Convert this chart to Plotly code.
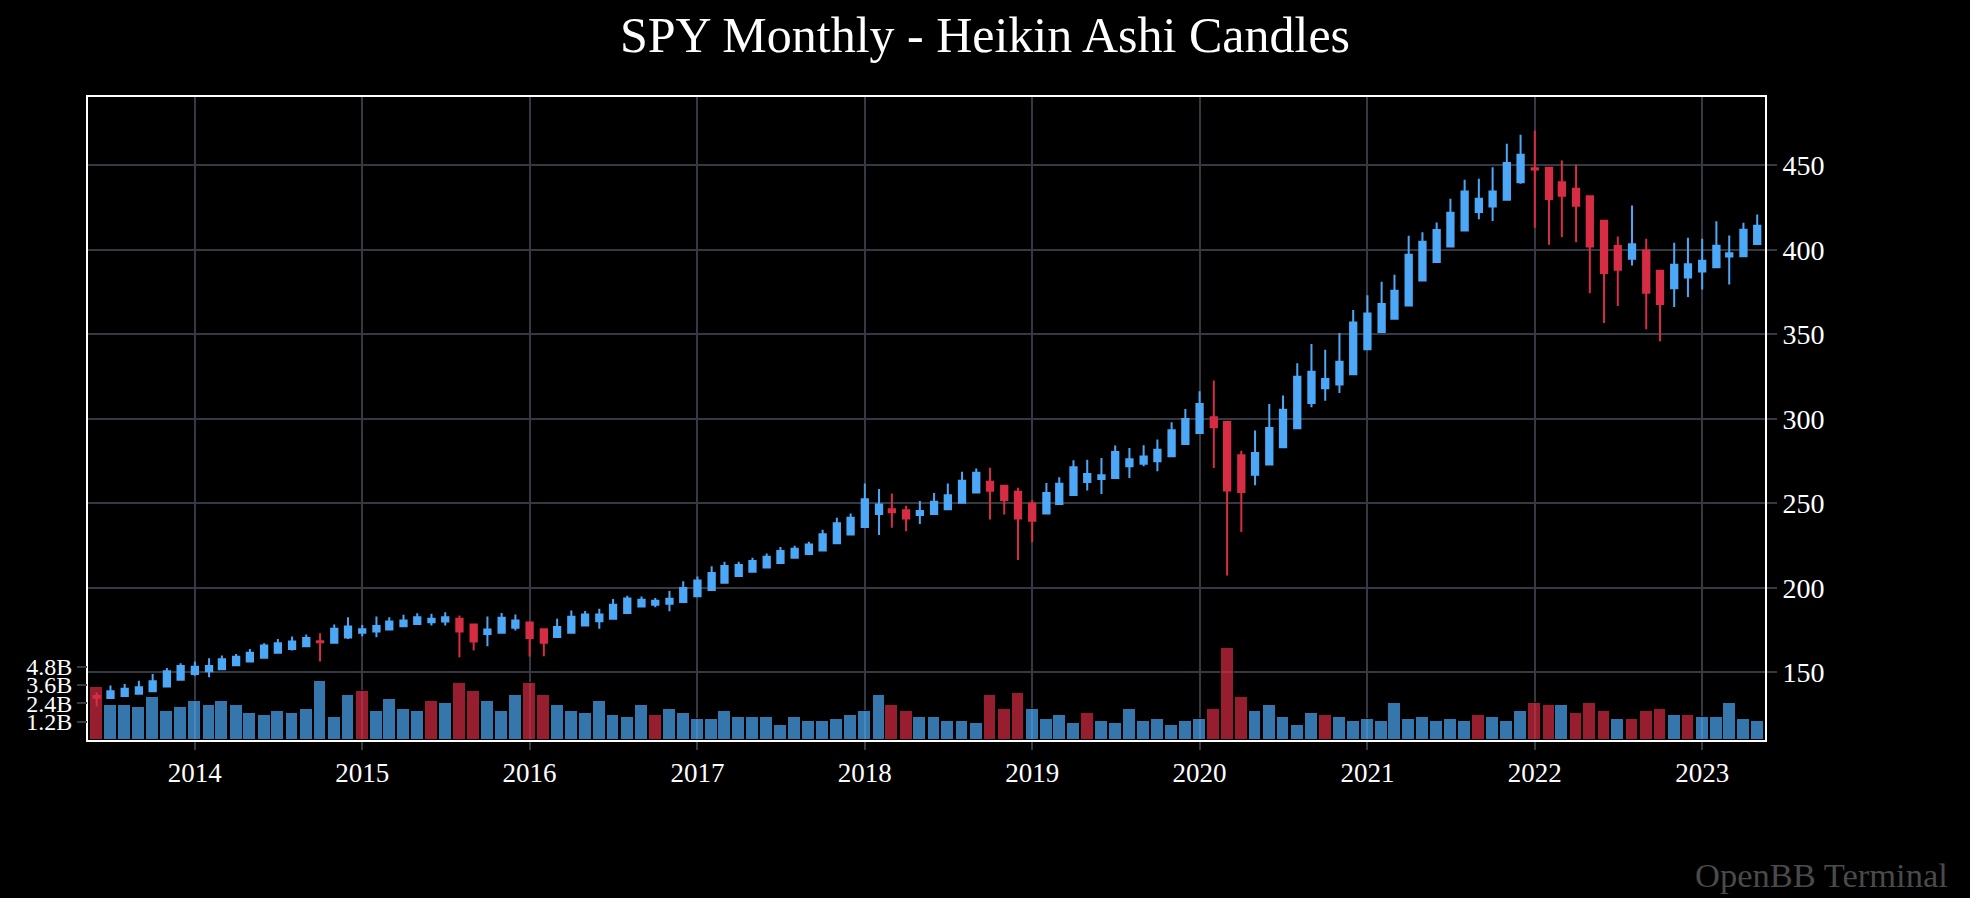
import plotly.graph_objects as go
import pandas as pd

# Monthly Heikin Ashi candles, SPY, 2013-06 .. 2023-05
months = pd.date_range("2013-06-01", periods=120, freq="MS")

ha_open = [136.0, 134.8, 136.0, 137.3, 138.8, 141.6, 145.7, 149.1, 150.7, 151.9,
           154.2, 156.4, 158.6, 161.7, 163.9, 165.5, 168.5, 167.5, 170.6, 173.4,
           174.2, 175.4, 177.3, 178.7, 179.7, 180.1, 181.7, 178.3, 172.8, 173.4,
           176.4, 179.5, 175.6, 171.0, 173.4, 177.7, 180.3, 181.7, 185.2, 189.0,
           190.0, 190.6, 191.6, 195.1, 198.7, 203.0, 207.0, 209.6, 212.1, 214.7,
           217.8, 220.0, 222.2, 226.5, 231.6, 236.0, 243.7, 246.6, 246.0, 243.1,
           243.7, 246.6, 250.4, 256.5, 262.8, 260.4, 256.9, 249.9, 244.1, 249.7,
           255.0, 262.7, 264.5, 265.1, 272.0, 273.4, 274.9, 277.9, 285.2, 291.7,
           301.0, 298.2, 278.5, 267.0, 273.0, 283.2, 294.5, 309.4, 318.1, 320.4,
           326.5, 341.3, 351.4, 359.3, 367.1, 381.9, 392.9, 402.0, 411.5, 422.4,
           425.7, 429.7, 440.0, 448.4, 448.6, 440.0, 436.2, 431.7, 417.3, 402.3,
           394.8, 399.7, 387.7, 377.4, 383.7, 387.3, 389.8, 396.1, 396.3, 403.5]
ha_high = [138.2, 142.2, 143.2, 145.1, 149.1, 152.6, 155.4, 156.4, 158.4, 160.0,
           160.9, 163.9, 167.3, 169.8, 171.2, 172.4, 173.2, 178.3, 182.7, 178.1,
           183.1, 182.7, 184.1, 185.0, 184.7, 185.6, 183.7, 178.3, 183.1, 185.2,
           184.3, 179.5, 176.0, 181.7, 186.6, 186.4, 187.6, 193.4, 195.3, 194.9,
           194.1, 198.1, 204.0, 206.8, 212.8, 215.5, 215.5, 217.8, 220.4, 224.2,
           224.9, 227.3, 234.4, 241.5, 244.1, 261.8, 258.5, 255.9, 248.6, 251.4,
           256.1, 261.8, 268.7, 270.7, 271.1, 260.4, 259.3, 251.8, 262.1, 265.5,
           275.5, 275.9, 276.9, 284.2, 282.8, 284.4, 287.8, 298.0, 305.9, 316.4,
           322.8, 298.2, 281.2, 293.1, 308.9, 313.8, 333.0, 344.3, 340.9, 350.9,
           364.5, 373.2, 381.1, 385.3, 408.4, 410.4, 416.3, 430.3, 441.5, 442.1,
           449.0, 462.8, 468.1, 470.7, 448.6, 452.9, 450.4, 431.7, 417.3, 408.0,
           426.3, 406.6, 387.7, 404.2, 407.2, 406.6, 417.0, 408.6, 416.1, 421.0]
ha_low = [129.9, 134.8, 136.0, 137.3, 138.8, 141.6, 145.7, 148.0, 147.1, 151.9,
          154.2, 156.4, 158.6, 161.7, 162.9, 165.5, 156.4, 167.5, 169.8, 171.4,
          170.8, 175.4, 177.3, 178.7, 177.7, 177.7, 159.0, 163.0, 165.5, 173.4,
          174.8, 159.4, 159.6, 171.0, 173.4, 177.7, 175.8, 181.7, 185.2, 189.0,
          188.6, 186.2, 191.6, 195.1, 198.7, 203.0, 207.0, 209.6, 212.1, 214.7,
          217.8, 220.0, 222.2, 226.5, 231.6, 236.0, 231.3, 235.6, 233.6, 237.8,
          243.7, 246.6, 250.4, 256.5, 240.5, 243.5, 216.5, 227.2, 244.1, 249.7,
          255.0, 257.6, 255.6, 265.1, 265.1, 272.0, 269.0, 277.9, 285.2, 291.7,
          271.0, 207.4, 233.1, 260.7, 273.0, 283.2, 294.5, 306.9, 310.8, 315.3,
          326.5, 341.3, 351.4, 359.3, 367.1, 381.9, 392.9, 402.0, 411.5, 418.1,
          417.1, 429.7, 439.1, 413.1, 403.1, 407.6, 404.6, 374.4, 356.7, 366.8,
          390.8, 353.1, 345.9, 366.2, 372.1, 376.6, 389.8, 379.6, 396.3, 403.5]
ha_close = [135.0, 138.8, 140.4, 141.2, 144.7, 150.7, 153.8, 153.4, 153.8, 157.8,
            159.2, 161.7, 165.9, 167.3, 168.3, 170.4, 167.8, 175.8, 177.1, 175.6,
            177.5, 180.1, 180.7, 182.7, 181.7, 182.7, 174.2, 168.3, 175.4, 182.3,
            180.7, 170.4, 167.5, 176.9, 182.9, 184.3, 184.3, 190.0, 193.7, 193.0,
            192.4, 193.6, 199.9, 204.4, 208.8, 212.9, 213.5, 215.9, 218.4, 221.8,
            223.2, 225.7, 231.8, 238.2, 241.5, 252.5, 249.4, 244.7, 241.1, 245.5,
            251.0, 254.9, 263.4, 268.1, 257.5, 252.0, 241.1, 239.8, 256.2, 261.7,
            271.4, 267.4, 266.6, 280.5, 276.1, 277.7, 281.8, 293.3, 300.0, 308.9,
            295.1, 257.6, 256.8, 279.9, 294.7, 305.5, 325.0, 327.9, 323.6, 333.8,
            357.0, 362.4, 368.0, 375.8, 397.2, 404.9, 411.8, 422.0, 434.6, 430.3,
            434.6, 451.4, 456.3, 447.6, 430.1, 432.1, 426.1, 402.1, 386.3, 388.3,
            403.3, 374.6, 368.0, 391.2, 391.6, 393.6, 402.5, 398.1, 411.9, 414.3]

# monthly volume in billions of shares, and bar direction (1 = up, 0 = down)
volume_bn = [3.49, 2.31, 2.31, 2.18, 2.83, 1.92, 2.18, 2.57, 2.31, 2.57,
             2.31, 1.79, 1.66, 1.92, 1.79, 2.05, 3.88, 1.52, 2.96, 3.22,
             1.92, 2.70, 2.05, 1.92, 2.57, 2.44, 3.75, 3.23, 2.57, 1.92,
             2.96, 3.75, 2.96, 2.31, 1.92, 1.79, 2.57, 1.66, 1.52, 2.31,
             1.66, 2.05, 1.79, 1.39, 1.39, 1.92, 1.52, 1.52, 1.52, 1.00,
             1.52, 1.26, 1.26, 1.39, 1.66, 1.92, 2.96, 2.31, 1.92, 1.52,
             1.52, 1.26, 1.26, 1.13, 2.96, 2.05, 3.09, 2.05, 1.39, 1.66,
             1.13, 1.79, 1.26, 1.13, 2.05, 1.26, 1.39, 1.00, 1.26, 1.39,
             2.05, 5.98, 2.83, 1.92, 2.31, 1.52, 1.00, 1.79, 1.66, 1.52,
             1.26, 1.39, 1.26, 2.44, 1.39, 1.52, 1.26, 1.39, 1.26, 1.66,
             1.52, 1.26, 1.92, 2.44, 2.31, 2.31, 1.79, 2.44, 1.92, 1.39,
             1.39, 1.92, 2.05, 1.66, 1.66, 1.52, 1.52, 2.44, 1.39, 1.26]
volume_up = [0, 1, 1, 1, 1, 1, 1, 1, 1, 1,
             1, 1, 1, 1, 1, 1, 1, 1, 1, 0,
             1, 1, 1, 1, 0, 1, 0, 0, 1, 1,
             1, 0, 0, 1, 1, 1, 1, 1, 1, 1,
             0, 1, 1, 1, 1, 1, 1, 1, 1, 1,
             1, 1, 1, 1, 1, 1, 1, 0, 0, 1,
             1, 1, 1, 1, 0, 0, 0, 1, 1, 1,
             1, 0, 1, 1, 1, 1, 1, 1, 1, 1,
             0, 0, 0, 1, 1, 1, 1, 1, 0, 1,
             1, 1, 1, 1, 1, 1, 1, 1, 1, 0,
             1, 1, 1, 0, 0, 1, 0, 0, 0, 1,
             0, 0, 0, 1, 0, 1, 1, 1, 1, 1]

volume_ticks = [1.2, 2.4, 3.6, 4.8]
volume_tick_text = ["1.2B", "2.4B", "3.6B", "4.8B"]
price_ticks = [150, 200, 250, 300, 350, 400, 450]

UP = "#4CA8F6"
DOWN = "#D62C44"
FONT = "Liberation Serif, Times New Roman, serif"
GRID = "#343944"

fig = go.Figure()

fig.add_trace(go.Bar(
    x=months, y=volume_bn, yaxis="y2",
    marker=dict(color=[UP if u else DOWN for u in volume_up],
                line=dict(color="#000000", width=1)),
    opacity=0.7, showlegend=False, hoverinfo="skip",
))

fig.add_trace(go.Candlestick(
    x=months, open=ha_open, high=ha_high, low=ha_low, close=ha_close,
    increasing=dict(line=dict(color=UP, width=2), fillcolor=UP),
    decreasing=dict(line=dict(color=DOWN, width=2), fillcolor=DOWN),
    showlegend=False, yaxis="y",
))

fig.update_layout(
    width=1970, height=898,
    paper_bgcolor="#000000", plot_bgcolor="#000000",
    font=dict(family=FONT, color="#FFFFFF", size=27),
    margin=dict(l=88, r=205, t=97, b=158),
    bargap=0,
    title=dict(text="SPY Monthly - Heikin Ashi Candles", x=0.5, xanchor="center",
               y=0.962, yref="container", yanchor="middle",
               font=dict(family=FONT, size=50, color="#FFFFFF")),
    xaxis=dict(type="date", range=["2013-05-13", "2023-05-18"],
               rangeslider=dict(visible=False),
               dtick="M12", tickformat="%Y", tick0="2014-01-01",
               showgrid=True, gridcolor=GRID, gridwidth=2,
               showline=True, linecolor="#FFFFFF", linewidth=2, mirror=True,
               ticks="outside", ticklen=8, tickcolor=GRID, tickwidth=2,
               tickfont=dict(size=27, family=FONT)),
    yaxis=dict(side="right", range=[110.0, 490.5], tickvals=price_ticks,
               showgrid=True, gridcolor=GRID, gridwidth=2,
               showline=True, linecolor="#FFFFFF", linewidth=2, mirror=True,
               ticks="outside", ticklen=10, tickcolor=GRID, tickwidth=2,
               zeroline=False, tickfont=dict(size=28, family=FONT)),
    yaxis2=dict(overlaying="y", side="left", range=[0, 42.0],
                tickvals=volume_ticks, ticktext=volume_tick_text,
                showgrid=False, zeroline=False, showline=False,
                ticks="outside", ticklen=10, tickcolor=GRID, tickwidth=2,
                tickfont=dict(size=24, family=FONT)),
    annotations=[dict(text="OpenBB Terminal", xref="paper", yref="paper",
                      x=1.1103, y=-0.21, xanchor="right", yanchor="middle",
                      showarrow=False,
                      font=dict(family=FONT, size=34.5, color="#4A4A4A"))],
)

fig.write_html(
    "out.html",
    config={"displayModeBar": False},
    post_script="document.body.style.margin='0';document.body.style.background='#000';"
                "document.documentElement.style.background='#000';",
)
